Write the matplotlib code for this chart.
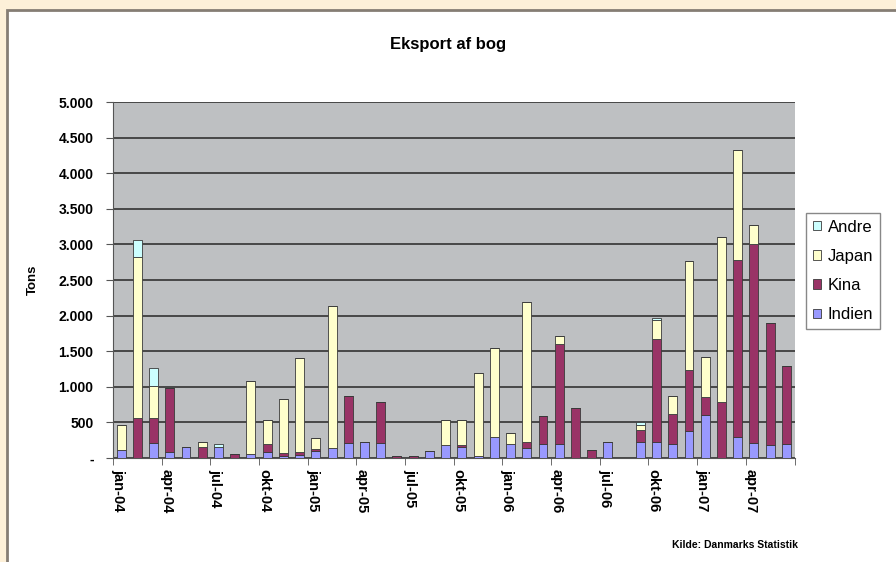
import matplotlib
matplotlib.use('Agg')
import matplotlib.pyplot as plt
from matplotlib.patches import Rectangle
import matplotlib.transforms as mtransforms
import numpy as np

plt.rcParams["font.family"] = "Liberation Sans"

months = ['jan-04', 'feb-04', 'mar-04', 'apr-04', 'maj-04', 'jun-04',
          'jul-04', 'aug-04', 'sep-04', 'okt-04', 'nov-04', 'dec-04',
          'jan-05', 'feb-05', 'mar-05', 'apr-05', 'maj-05', 'jun-05',
          'jul-05', 'aug-05', 'sep-05', 'okt-05', 'nov-05', 'dec-05',
          'jan-06', 'feb-06', 'mar-06', 'apr-06', 'maj-06', 'jun-06',
          'jul-06', 'aug-06', 'sep-06', 'okt-06', 'nov-06', 'dec-06',
          'jan-07', 'feb-07', 'mar-07', 'apr-07', 'maj-07', 'jun-07']

indien = [110, 0, 210, 80, 150, 0, 150, 0, 60, 80, 30, 40,
          100, 140, 210, 220, 210, 0, 0, 100, 180, 150, 30, 300,
          190, 140, 200, 200, 0, 0, 220, 0, 230, 220, 200, 380,
          600, 0, 300, 210, 180, 200]
kina = [0, 560, 350, 900, 0, 150, 0, 50, 0, 120, 40, 50,
        20, 0, 660, 0, 570, 30, 30, 0, 0, 30, 0, 0,
        0, 80, 390, 1400, 700, 110, 0, 0, 170, 1450, 420, 860,
        260, 790, 2480, 2800, 1710, 1090]
japan = [360, 2270, 450, 0, 0, 80, 0, 0, 1020, 340, 760, 1310,
         160, 1990, 0, 0, 0, 0, 0, 0, 350, 350, 1170, 1240,
         160, 1970, 0, 110, 0, 0, 0, 0, 60, 270, 250, 1520,
         560, 2310, 1550, 260, 0, 0]
andre = [0, 230, 250, 0, 0, 0, 40, 0, 0, 0, 0, 0,
         0, 0, 0, 0, 0, 0, 0, 0, 0, 0, 0, 0,
         0, 0, 0, 0, 0, 0, 0, 0, 40, 30, 0, 0,
         0, 0, 0, 0, 0, 0]

yticks = [0, 500, 1000, 1500, 2000, 2500, 3000, 3500, 4000, 4500, 5000]
yticklabels = ['-', '500', '1.000', '1.500', '2.000', '2.500', '3.000',
               '3.500', '4.000', '4.500', '5.000']

fig = plt.figure(figsize=(8.96, 5.62), dpi=100)
fig.patch.set_facecolor('#FDF0D8')
fig.patches.append(Rectangle((7 / 896, -0.05), 1.2, 1.05 - 10 / 562,
                             transform=fig.transFigure, facecolor='white',
                             edgecolor='#857d74', linewidth=2, zorder=-10))

ax = fig.add_axes([113 / 896, 1 - 458 / 562, 681.5 / 896, 356 / 562])
ax.set_facecolor('#BEC0C2')

x = np.arange(len(months))
w = 0.55
ec = '#3a3a3a'
lw = 0.6
b1 = np.array(indien)
b2 = b1 + np.array(kina)
b3 = b2 + np.array(japan)
ax.bar(x, indien, w, color='#9999FF', edgecolor=ec, linewidth=lw, label='Indien', zorder=3)
ax.bar(x, kina, w, bottom=b1, color='#993366', edgecolor=ec, linewidth=lw, label='Kina', zorder=3)
ax.bar(x, japan, w, bottom=b2, color='#FFFFCC', edgecolor=ec, linewidth=lw, label='Japan', zorder=3)
ax.bar(x, andre, w, bottom=b3, color='#CCFFFF', edgecolor=ec, linewidth=lw, label='Andre', zorder=3)

ax.set_xlim(-0.5, len(months) - 0.5)
ax.set_ylim(0, 5000)
ax.set_yticks(yticks)
ax.set_yticklabels(yticklabels, fontsize=10, fontweight='bold')
ax.yaxis.grid(True, color='#474747', linewidth=1.4, zorder=1)
ax.set_axisbelow(True)

ax.set_xticks(x[::3])
ax.set_xticklabels(months[::3], rotation=-90, fontsize=10.5, fontweight='bold')
ax.tick_params(axis='x', length=0, pad=8)
ax.set_xticks(np.arange(-0.5, len(months), 3), minor=True)
ax.tick_params(axis='x', which='minor', length=5, color='#555555')
ax.tick_params(axis='y', length=5, color='#555555', pad=9)

# labels sit a little left of the bar centres in the original
shift = mtransforms.ScaledTranslation(-3 / 100, 0, fig.dpi_scale_trans)
for lab in ax.get_xticklabels():
    lab.set_transform(lab.get_transform() + shift)

for s in ['top', 'right']:
    ax.spines[s].set_visible(False)
ax.spines['left'].set_color('#555555')
ax.spines['bottom'].set_color('#555555')

ax.set_ylabel('Tons', fontsize=9.5, fontweight='bold', labelpad=14)

fig.text(448 / 896, 1 - 45 / 562, 'Eksport af bog', ha='center', va='center',
         fontsize=12, fontweight='bold')
fig.text(798 / 896, 1 - 545 / 562, 'Kilde: Danmarks Statistik', ha='right',
         va='center', fontsize=7.5, fontweight='bold')

handles, labels = ax.get_legend_handles_labels()
leg = fig.legend(handles[::-1], labels[::-1], loc='upper left',
                 bbox_to_anchor=(806 / 896, 1 - 213 / 562), borderaxespad=0,
                 fontsize=12, handlelength=0.5, handleheight=0.5,
                 handletextpad=0.4, labelspacing=0.85, fancybox=False,
                 edgecolor='#888888', framealpha=1)
leg.get_frame().set_linewidth(1)

plt.savefig('out.png', dpi=100, facecolor=fig.get_facecolor())
plt.close()
